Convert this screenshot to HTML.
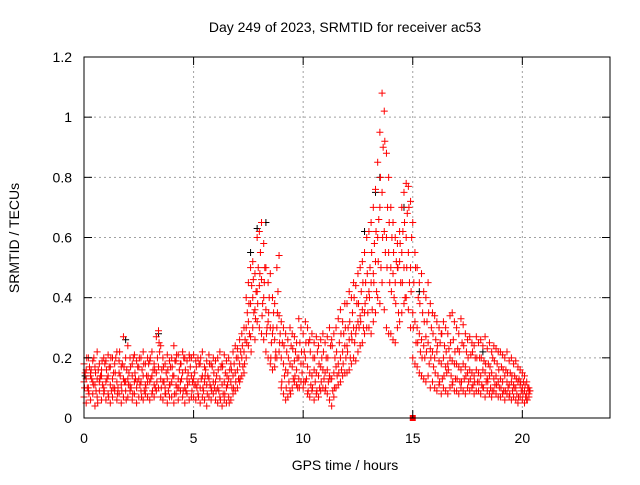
<!DOCTYPE html>
<html><head><meta charset="utf-8"><style>
body{margin:0;background:#fff;font-family:"Liberation Sans",sans-serif}
svg text{font-family:"Liberation Sans",sans-serif;font-size:14px;fill:#000}
</style></head><body>
<svg id="c" width="640" height="480">
<rect width="640" height="480" fill="#fff"/>
<g id="grid"></g><g id="pts"></g><g id="axes"></g>
</svg>
<script>
const xTicks=[0,5,10,15,20];
const yTicks=[0,0.2,0.4,0.6,0.8,1,1.2];
const yTickLabels=["0","0.2","0.4","0.6","0.8","1","1.2"];
const tStep=0.1;
const seriesA=[.18,.16,.2,.15,.19,.17,.22,.18,.16,.2,.19,.21,.17,.2,.18,.22,.19,.17,.27,.2,.24,.2,.18,.21,.19,.17,.2,.22,.18,.2,.19,.22,.18,.27,.29,.24,.2,.18,.21,.19,.2,.24,.19,.21,.18,.22,.2,.19,.21,.2,.21,.19,.2,.18,.22,.17,.19,.21,.18,.2,.19,.2,.22,.18,.21,.19,.2,.18,.22,.24,.23,.26,.28,.3,.4,.45,.5,.52,.48,.6,.62,.65,.58,.5,.45,.48,.4,.38,.5,.54,.32,.3,.28,.26,.3,.28,.27,.25,.33,.3,.28,.32,.3,.26,.28,.25,.27,.24,.26,.28,.25,.27,.3,.26,.28,.3,.33,.36,.32,.38,.38,.42,.4,.45,.44,.48,.5,.52,.55,.6,.62,.65,.7,.76,.85,.95,1.08,1.02,.88,.8,.7,.65,.6,.58,.62,.7,.75,.78,.77,.72,.65,.55,.5,.45,.48,.42,.4,.45,.38,.35,.34,.32,.3,.28,.32,.3,.28,.34,.35,.32,.3,.28,.33,.31,.28,.26,.27,.25,.24,.27,.25,.26,.24,.27,.23,.25,.22,.24,.23,.22,.22,.21,.2,.22,.19,.2,.18,.19,.17,.16,.15,.14,.12,.1];
const seriesB=[.12,.13,.1,.14,.12,.11,.13,.12,.14,.1,.12,.14,.11,.13,.1,.12,.15,.11,.13,.12,.13,.11,.14,.12,.1,.13,.12,.14,.11,.12,.12,.14,.11,.15,.17,.13,.12,.1,.13,.11,.12,.14,.11,.13,.12,.15,.1,.13,.12,.14,.13,.11,.12,.1,.14,.12,.11,.13,.1,.12,.12,.1,.13,.11,.12,.1,.13,.12,.14,.15,.16,.18,.2,.22,.3,.32,.38,.4,.36,.42,.44,.46,.4,.36,.32,.3,.28,.26,.3,.34,.2,.18,.16,.15,.18,.17,.19,.16,.2,.18,.18,.2,.17,.15,.14,.16,.15,.14,.17,.16,.15,.16,.14,.13,.15,.17,.18,.2,.22,.24,.24,.26,.28,.3,.28,.32,.34,.36,.35,.4,.42,.45,.48,.52,.6,.7,.75,.62,.6,.55,.5,.48,.45,.5,.52,.55,.5,.6,.55,.5,.35,.32,.3,.28,.26,.24,.27,.25,.23,.22,.2,.22,.19,.18,.2,.17,.18,.2,.19,.18,.18,.17,.16,.18,.17,.15,.16,.15,.14,.16,.15,.14,.16,.15,.13,.14,.15,.13,.14,.12,.13,.12,.14,.12,.11,.12,.11,.1,.12,.11,.1,.09,.08,.08];
const seriesC=[.07,.05,.09,.06,.08,.04,.07,.09,.06,.08,.06,.08,.05,.07,.09,.06,.08,.05,.07,.09,.07,.09,.06,.08,.05,.07,.09,.06,.08,.07,.06,.08,.07,.09,.1,.07,.06,.08,.05,.07,.07,.05,.08,.06,.09,.07,.05,.08,.06,.07,.07,.06,.08,.05,.07,.06,.04,.07,.06,.08,.06,.05,.07,.04,.06,.05,.07,.06,.08,.09,.1,.12,.14,.15,.2,.24,.27,.3,.26,.32,.3,.28,.26,.22,.2,.18,.16,.17,.2,.22,.1,.08,.06,.07,.09,.1,.12,.11,.13,.12,.1,.12,.08,.07,.09,.06,.08,.07,.09,.1,.09,.08,.06,.04,.07,.1,.11,.12,.14,.15,.15,.16,.18,.2,.19,.22,.24,.25,.28,.3,.3,.28,.32,.35,.4,.38,.45,.36,.3,.28,.28,.26,.25,.3,.32,.35,.38,.4,.36,.3,.2,.18,.17,.15,.14,.13,.12,.14,.1,.12,.1,.09,.11,.08,.1,.09,.08,.1,.11,.09,.09,.08,.1,.09,.08,.1,.09,.1,.08,.09,.09,.08,.1,.07,.09,.08,.07,.09,.08,.07,.07,.08,.06,.08,.07,.06,.07,.06,.05,.07,.06,.05,.06,.07];
const seriesD=[.15,.1,.17,.13,.2,.09,.16,.14,.11,.18,.13,.17,.09,.15,.2,.1,.14,.18,.12,.16,.15,.1,.2,.13,.17,.11,.16,.09,.14,.18,.13,.16,.1,.2,.22,.16,.12,.15,.09,.17,.14,.19,.1,.16,.13,.2,.09,.15,.17,.12,.15,.1,.18,.13,.09,.16,.14,.11,.17,.1,.14,.09,.17,.08,.15,.11,.16,.1,.18,.2,.13,.22,.17,.26,.35,.28,.44,.35,.42,.5,.55,.38,.5,.3,.4,.25,.35,.22,.42,.28,.25,.14,.22,.12,.24,.13,.22,.1,.25,.15,.22,.13,.25,.11,.2,.12,.22,.1,.2,.13,.2,.12,.24,.09,.2,.14,.25,.16,.28,.2,.3,.2,.35,.25,.38,.3,.42,.3,.45,.35,.5,.36,.58,.42,.66,.5,.9,.55,.7,.45,.6,.4,.52,.35,.45,.62,.4,.68,.45,.6,.45,.25,.4,.22,.35,.2,.32,.18,.3,.17,.26,.14,.25,.13,.24,.15,.23,.14,.26,.13,.23,.12,.25,.13,.22,.12,.21,.11,.2,.12,.2,.11,.19,.12,.18,.1,.2,.11,.18,.1,.17,.09,.16,.1,.15,.09,.14,.08,.13,.09,.12,.07,.1,.09];
const seriesE=[.1,.2,.08,.16,.11,.15,.05,.13,.19,.09,.16,.07,.2,.1,.15,.08,.22,.09,.17,.06,.11,.17,.08,.15,.12,.2,.07,.18,.1,.14,.2,.09,.16,.12,.25,.1,.17,.08,.16,.11,.17,.08,.21,.1,.18,.09,.16,.11,.2,.09,.11,.17,.07,.2,.1,.14,.08,.18,.09,.15,.09,.16,.06,.17,.08,.14,.05,.16,.1,.12,.2,.13,.24,.18,.25,.38,.22,.46,.33,.38,.48,.34,.45,.28,.35,.2,.3,.2,.35,.25,.12,.24,.1,.2,.08,.23,.14,.2,.1,.22,.12,.25,.09,.22,.1,.2,.09,.18,.12,.22,.1,.2,.13,.24,.1,.22,.15,.28,.18,.3,.22,.32,.26,.4,.3,.38,.32,.45,.38,.48,.4,.55,.45,.62,.52,.8,.6,.92,.5,.65,.42,.55,.38,.5,.58,.45,.65,.5,.7,.42,.3,.5,.25,.38,.2,.32,.22,.35,.2,.28,.15,.24,.12,.28,.14,.22,.16,.25,.12,.22,.13,.22,.12,.24,.14,.2,.13,.22,.12,.2,.12,.2,.1,.18,.12,.17,.09,.19,.11,.16,.1,.16,.09,.15,.08,.14,.1,.13,.07,.12,.08,.11,.06,.09];
const blackT=[0.05,1.9,3.4,7.6,7.9,8.3,12.8,13.3,13.5,14.6,15.3,18.2];
const blackV=[0.14,0.26,0.28,0.55,0.63,0.65,0.62,0.75,0.8,0.7,0.42,0.22];
const X0=84,X1=610,Y0=418,Y1=57;
const xs=v=>X0+v/24*(X1-X0);
const ys=v=>Y0-v/1.2*(Y0-Y1);
const NS="http://www.w3.org/2000/svg";
function mk(tag,attrs,parent){const e=document.createElementNS(NS,tag);for(const k in attrs)e.setAttribute(k,attrs[k]);parent.appendChild(e);return e;}
const grid=document.getElementById('grid'),axes=document.getElementById('axes'),pts=document.getElementById('pts'),svg=document.getElementById('c');
yTicks.forEach((v,i)=>{const y=ys(v);
 if(i>0&&i<yTicks.length-1){const l=mk('line',{x1:X0,x2:X1,y1:y,y2:y,stroke:'#a0a0a0','stroke-dasharray':'2,3'},grid);
 
 }
 mk('line',{x1:X0,x2:X0+8,y1:y,y2:y,stroke:'#000'},axes);mk('line',{x1:X1,x2:X1-8,y1:y,y2:y,stroke:'#000'},axes);
 const t=mk('text',{x:X0-12,y:y+5,'text-anchor':'end'},axes);t.textContent=yTickLabels[i];
 
 });
xTicks.forEach(v=>{const x=xs(v);
 if(v>0){const l=mk('line',{x1:x,x2:x,y1:Y0,y2:Y1,stroke:'#a0a0a0','stroke-dasharray':'2,3'},grid);
 
 }
 mk('line',{x1:x,x2:x,y1:Y0,y2:Y0-8,stroke:'#000'},axes);mk('line',{x1:x,x2:x,y1:Y1,y2:Y1+8,stroke:'#000'},axes);
 const t=mk('text',{x:x,y:Y0+25,'text-anchor':'middle'},axes);t.textContent=v;
 
 });
const fr=mk('rect',{x:X0,y:Y1,width:X1-X0,height:Y0-Y1,fill:'none',stroke:'#000'},axes);


function plus(t,v,col){const x=xs(t),y=ys(v);
 const p=mk('path',{d:`M${x-3.5},${y}h7M${x},${y-3.5}v7`,stroke:col,'stroke-width':1},pts);
 
 }
blackT.forEach((t,i)=>plus(t,blackV[i],'#000'));
[seriesA,seriesB,seriesC].forEach(s=>s.forEach((v,i)=>plus(i*tStep,v,'#f00')));
seriesD.forEach((v,i)=>plus(i*tStep+0.05,v,'#f00'));
seriesE.forEach((v,i)=>plus(i*tStep+0.025,v,'#f00'));
const sq=mk('rect',{x:xs(15)-3,y:ys(0)-3,width:6,height:6,fill:'#f00'},pts);


const ti=mk('text',{x:345,y:32,'text-anchor':'middle'},svg);ti.textContent='Day 249 of 2023, SRMTID for receiver ac53';


const xl=mk('text',{x:345,y:470,'text-anchor':'middle'},svg);xl.textContent='GPS time / hours';


const yl=mk('text',{x:19,y:238,'text-anchor':'middle',transform:'rotate(-90 19 238)'},svg);yl.textContent='SRMTID / TECUs';


</script>
</body></html>
